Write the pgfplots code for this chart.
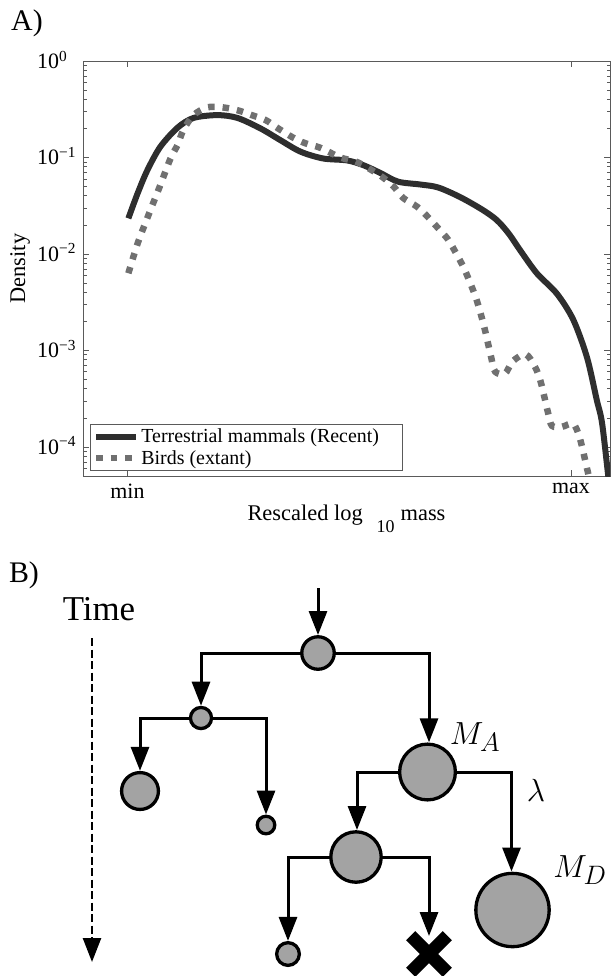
\documentclass[border=0pt]{standalone}
\usepackage{graphicx}
\usepackage{fontspec}
\setmainfont{Liberation Serif}
\usepackage{pgfplots}
\pgfplotsset{compat=1.18}
\usetikzlibrary{arrows.meta}
\definecolor{mam}{HTML}{2E2E2E}
\definecolor{bird}{HTML}{707070}
\definecolor{frame}{HTML}{5A5A5A}
\definecolor{nodefill}{HTML}{A3A3A3}
\tikzset{tip/.tip={Triangle[length=24bp,width=18bp]}}
\newcommand{\bigmath}[1]{\scalebox{1.29}{\fontsize{24.88}{30}\selectfont #1}}
\begin{document}
\begin{tikzpicture}[x=1bp,y=1bp]
\path[use as bounding box] (0,0) rectangle (611,-976);
% ---------------- Panel A ----------------
\begin{axis}[
  at={(83bp,-61bp)}, anchor=north west,
  scale only axis, width=527bp, height=415bp,
  xmin=-0.1003, xmax=1.088,
  ymode=log, ymin=5e-5, ymax=1,
  axis line style={frame, line width=0.8bp},
  every tick/.style={frame, line width=0.8bp},
  major tick length=6bp, minor tick length=3.5bp,
  tick align=inside,
  xtick={0,1}, xticklabels={min,max},
  ytick={1e-4,1e-3,1e-2,1e-1,1},
  minor ytick={6e-5,7e-5,8e-5,9e-5,2e-4,3e-4,4e-4,5e-4,6e-4,7e-4,8e-4,9e-4,2e-3,3e-3,4e-3,5e-3,6e-3,7e-3,8e-3,9e-3,2e-2,3e-2,4e-2,5e-2,6e-2,7e-2,8e-2,9e-2,2e-1,3e-1,4e-1,5e-1,6e-1,7e-1,8e-1,9e-1},
  yticklabels={10\textsuperscript{−4},10\textsuperscript{−3},10\textsuperscript{−2},10\textsuperscript{−1},10\textsuperscript{0}},
  yticklabel style={anchor=base west, inner sep=0pt, xshift=-46bp, yshift=-7.5bp},
  xticklabel style={yshift=-4bp},
  tick label style={font=\fontsize{22}{26}\selectfont},
  label style={font=\fontsize{22.5}{26}\selectfont},
  xlabel={Rescaled log\hspace*{14bp}\raisebox{-12bp}{\fontsize{18}{20}\selectfont 10}\hspace*{6bp}mass},
  xlabel style={at={(axis description cs:0.5,-0.106)}, anchor=base},
  ylabel={Density},
  ylabel style={at={(axis description cs:-0.110,0.5)}, anchor=base},
  legend style={at={(axis description cs:0,0)}, anchor=south west, xshift=6.5bp, yshift=5bp,
    draw=frame, line width=0.8bp, fill=white, font=\fontsize{20}{24}\selectfont,
    inner xsep=3bp, inner ysep=2bp, row sep=0pt, cells={anchor=west},
    nodes={inner ysep=3pt}},
  legend image code/.code={\draw[#1] (0bp,0bp) -- (40bp,0bp);},
]
\addplot[mam, line width=6bp, smooth, tension=0.5] coordinates {
(0.002,0.0234) (0.023,0.0427) (0.045,0.0741) (0.074,0.129) (0.113,0.204)
(0.149,0.257) (0.203,0.275) (0.248,0.257) (0.30,0.200) (0.345,0.151)
(0.39,0.115) (0.441,0.0977) (0.495,0.0933) (0.532,0.0832) (0.57,0.0692)
(0.61,0.0562) (0.66,0.0525) (0.70,0.0490) (0.75,0.0389) (0.80,0.0288)
(0.833,0.0224) (0.86,0.0162) (0.885,0.0110) (0.923,0.00631) (0.968,0.00389)
(1.005,0.00209) (1.036,0.000851) (1.058,0.000309) (1.07,0.000178) (1.084,0.0000501)
(1.09,0.00003)
};
\addlegendentry{Terrestrial mammals (Recent)\hspace*{18bp}}
\addplot[bird, line width=6.5bp, dash pattern=on 6.5bp off 8bp, smooth, tension=0.5] coordinates {
(0.002,0.00631) (0.023,0.0129) (0.047,0.0251) (0.072,0.0490) (0.097,0.0977)
(0.113,0.135) (0.126,0.193) (0.149,0.275) (0.18,0.331) (0.214,0.331)
(0.248,0.309) (0.28,0.275) (0.311,0.245) (0.34,0.200) (0.372,0.162)
(0.40,0.141) (0.435,0.126) (0.48,0.100) (0.514,0.0912) (0.543,0.0776)
(0.574,0.0631) (0.60,0.0501) (0.622,0.0380) (0.653,0.0309) (0.678,0.0240)
(0.70,0.0186) (0.723,0.0141) (0.743,0.00977) (0.761,0.00676) (0.786,0.00347)
(0.804,0.00178) (0.82,0.000851) (0.829,0.000603) (0.851,0.000575) (0.869,0.000776)
(0.898,0.000912) (0.919,0.000676) (0.932,0.000468) (0.948,0.000229) (0.957,0.000166)
(0.98,0.000162) (1.005,0.000174) (1.02,0.000123) (1.036,0.0000603) (1.045,0.0000398)
};
\addlegendentry{Birds (extant)}
\end{axis}
% ---------------- Panel B ----------------
\begin{axis}[
  at={(0bp,-976bp)}, anchor=south west,
  scale only axis, width=611bp, height=416bp,
  xmin=0, xmax=611, ymin=-976, ymax=-560,
  axis lines=none, clip=false,
]
% time arrow
\addplot[black, line width=2.5bp, dash pattern=on 8bp off 3.5bp, -{tip}] coordinates {(92,-638) (92,-962)};
% connectors
\addplot[black, line width=3bp, -{tip}] coordinates {(318,-588) (318,-635)};
\addplot[black, line width=3bp, {tip}-{tip}] coordinates {(201,-705.7) (201,-653) (429,-653) (429,-742.3)};
\addplot[black, line width=3bp, {tip}-{tip}] coordinates {(140,-770.8) (140,-718) (266,-718) (266,-814.5)};
\addplot[black, line width=3bp, {tip}-{tip}] coordinates {(357,-830) (357,-772) (511.5,-772) (511.5,-871.5)};
\addplot[black, line width=3bp, {tip}-{tip}] coordinates {(288,-940.9) (288,-857) (429,-857) (429,-936)};
% nodes
\pgfplotsset{nd/.style={only marks, mark=*, mark options={fill=nodefill, draw=black, line width=3.3bp}}}
\addplot[nd, mark size=16.3pt] coordinates {(318,-653)};
\addplot[nd, mark size=10.6pt] coordinates {(201,-718)};
\addplot[nd, mark size=28pt] coordinates {(427.5,-772)};
\addplot[nd, mark size=18.5pt] coordinates {(140,-791)};
\addplot[nd, mark size=8.8pt] coordinates {(266,-825)};
\addplot[nd, mark size=25.3pt] coordinates {(356,-857)};
\addplot[nd, mark size=36.8pt] coordinates {(512.5,-910)};
\addplot[nd, mark size=11.4pt] coordinates {(288,-954)};
% extinction cross
\addplot[only marks, mark=x, mark size=26pt, mark options={line width=13bp, draw=black}] coordinates {(429,-954)};
% labels
\node[font=\fontsize{30}{34}\selectfont] at (axis cs:27,-23) {A)};
\node[font=\fontsize{30}{34}\selectfont] at (axis cs:24,-575) {B)};
\node[font=\fontsize{35}{40}\selectfont] at (axis cs:99,-609) {Time};
\node at (axis cs:475,-737) {\bigmath{$M_A$}};
\node at (axis cs:536,-790) {\bigmath{$\lambda$}};
\node at (axis cs:580,-870) {\bigmath{$M_D$}};
\end{axis}
\end{tikzpicture}
\end{document}
